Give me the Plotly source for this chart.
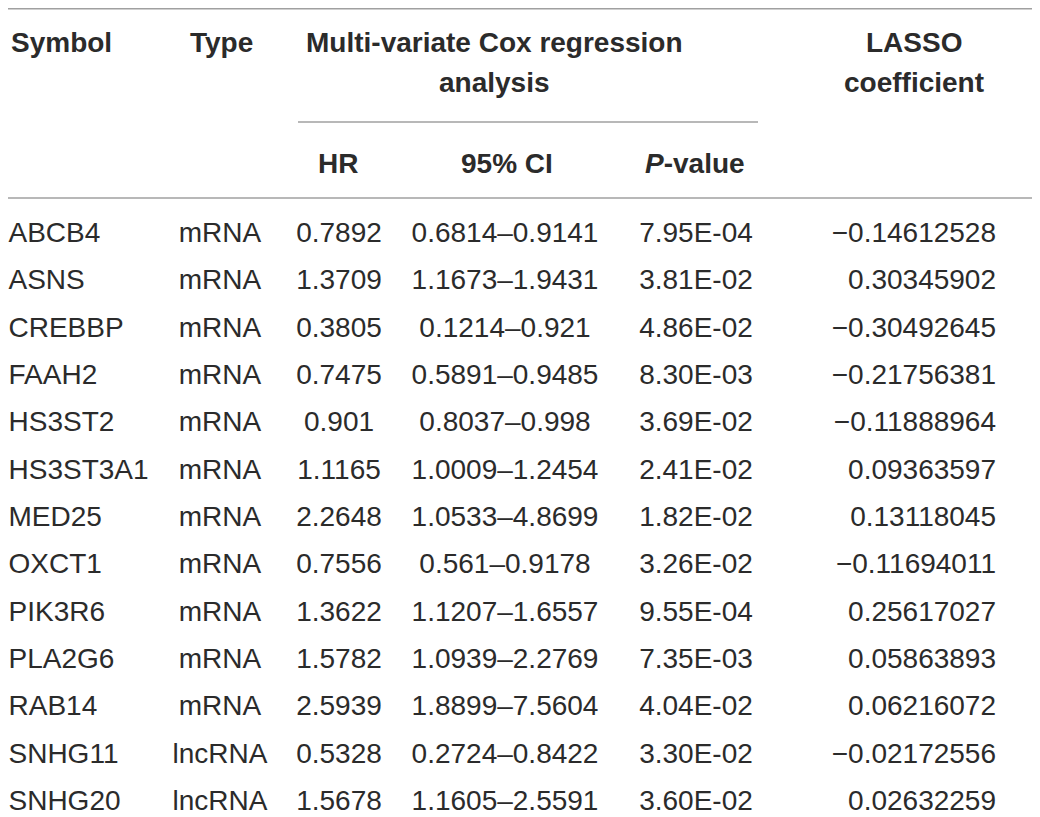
import plotly.graph_objects as go

symbols = ["ABCB4", "ASNS", "CREBBP", "FAAH2", "HS3ST2", "HS3ST3A1", "MED25",
           "OXCT1", "PIK3R6", "PLA2G6", "RAB14", "SNHG11", "SNHG20"]
types = ["mRNA"] * 11 + ["lncRNA"] * 2
hr = [0.7892, 1.3709, 0.3805, 0.7475, 0.901, 1.1165, 2.2648, 0.7556, 1.3622,
      1.5782, 2.5939, 0.5328, 1.5678]
ci_low = [0.6814, 1.1673, 0.1214, 0.5891, 0.8037, 1.0009, 1.0533, 0.561, 1.1207,
          1.0939, 1.8899, 0.2724, 1.1605]
ci_high = [0.9141, 1.9431, 0.921, 0.9485, 0.998, 1.2454, 4.8699, 0.9178, 1.6557,
           2.2769, 7.5604, 0.8422, 2.5591]
p_values = [7.95e-04, 3.81e-02, 4.86e-02, 8.30e-03, 3.69e-02, 2.41e-02, 1.82e-02,
            3.26e-02, 9.55e-04, 7.35e-03, 4.04e-02, 3.30e-02, 3.60e-02]
lasso = [-0.14612528, 0.30345902, -0.30492645, -0.21756381, -0.11888964,
         0.09363597, 0.13118045, -0.11694011, 0.25617027, 0.05863893,
         0.06216072, -0.02172556, 0.02632259]

FONT = "Liberation Sans, Arial, Helvetica, sans-serif"
TXT = "#2b2b2b"
RULE = "#a0a0a0"
SIZE = 28

rows = list(range(len(symbols)))
hr_txt = [str(v) for v in hr]
ci_txt = [f"{a}\u2013{b}" for a, b in zip(ci_low, ci_high)]
p_txt = [f"{v:.2E}" for v in p_values]
lasso_txt = [(f"\u2212{abs(v):.8f}" if v < 0 else f"{v:.8f}") for v in lasso]

# column anchors (x, textposition)
cols = [
    (symbols, 8.5, "middle right"),
    (types, 220, "middle center"),
    (hr_txt, 339, "middle center"),
    (ci_txt, 505, "middle center"),
    (p_txt, 696, "middle center"),
    (lasso_txt, 996, "middle left"),
]

fig = go.Figure()
for texts, x, pos in cols:
    fig.add_trace(go.Scatter(
        x=[x] * len(texts), y=rows, text=texts, mode="text",
        textposition=pos, textfont=dict(family=FONT, size=SIZE, color=TXT),
        hoverinfo="skip", showlegend=False, cliponaxis=False))

hdr_font = dict(family=FONT, size=SIZE, color=TXT)
headers = [
    ("<b>Symbol</b>", 8.5, -4.06, "left"),
    ("<b>Type</b>", 221, -4.06, "center"),
    ("<b>Multi-variate Cox regression</b>", 494, -4.06, "center"),
    ("<b>analysis</b>", 494, -3.23, "center"),
    ("<b>LASSO</b>", 914, -4.06, "center"),
    ("<b>coefficient</b>", 914, -3.23, "center"),
    ("<b>HR</b>", 338, -1.52, "center"),
    ("<b>95% CI</b>", 507, -1.52, "center"),
    ("<b><i>P</i>-value</b>", 695, -1.52, "center"),
]
for text, x, y, align in headers:
    fig.add_annotation(x=x, y=y, xref="x", yref="y", text=text, showarrow=False,
                       xanchor=align, yanchor="middle", font=hdr_font)

rules = [(8, 1035, -4.78), (298, 758, -2.387), (8, 1035, -0.782)]
for x0, x1, y in rules:
    fig.add_shape(type="line", xref="x", yref="y", x0=x0, x1=x1, y0=y, y1=y,
                  line=dict(color=RULE, width=1.5))

# page has an 8px body margin: the plot area covers page pixels 8..1040 x 8..817
fig.update_xaxes(range=[8, 1040], visible=False, fixedrange=True)
fig.update_yaxes(range=[12.296, -4.796], visible=False, fixedrange=True)
fig.update_layout(width=1032, height=809, margin=dict(l=0, r=0, t=0, b=0),
                  paper_bgcolor="white", plot_bgcolor="white")

fig.write_html("out.html")
